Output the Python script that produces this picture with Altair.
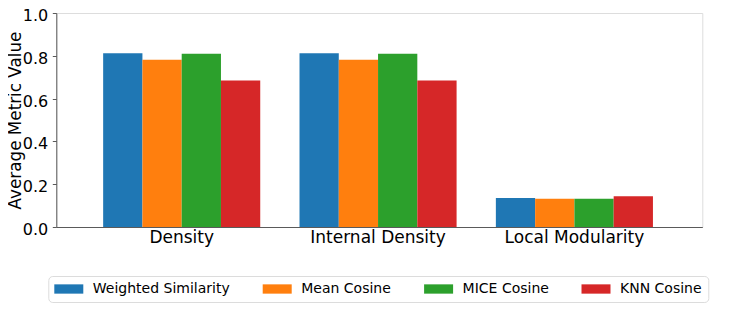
import altair as alt
import pandas as pd

categories = ["Density", "Internal Density", "Local Modularity"]
methods = ["Weighted Similarity", "Mean Cosine", "MICE Cosine", "KNN Cosine"]
colors = ["#1f77b4", "#ff7f0e", "#2ca02c", "#d62728"]
weighted_similarity = [0.8125, 0.8125, 0.135]
mean_cosine = [0.782, 0.782, 0.132]
mice_cosine = [0.810, 0.810, 0.132]
knn_cosine = [0.684, 0.684, 0.144]
y_ticks = [0.0, 0.2, 0.4, 0.6, 0.8, 1.0]

rows = []
for m, vals in zip(methods, [weighted_similarity, mean_cosine, mice_cosine, knn_cosine]):
    for c, v in zip(categories, vals):
        rows.append({"Metric": c, "Method": m, "Value": v})
df = pd.DataFrame(rows)

FONT = "DejaVu Sans"
EDGE = "#5a5a5a"
PLOT_H = 214
PLOT_W = 646

chart = alt.Chart(df).mark_bar().encode(
    x=alt.X(
        "Metric:N",
        sort=categories,
        scale=alt.Scale(domain=categories, paddingInner=0.2, paddingOuter=0.245, align=0.487),
        axis=alt.Axis(
            title=None, labelAngle=0, labelFontSize=17, labelFont=FONT, labelColor="black",
            ticks=False, domainColor=EDGE, labelPadding=2,
        ),
    ),
    xOffset=alt.XOffset(
        "Method:N", sort=methods,
        scale=alt.Scale(domain=methods, paddingInner=0, paddingOuter=0),
    ),
    y=alt.Y(
        "Value:Q",
        scale=alt.Scale(domain=[0, 1], nice=False),
        axis=alt.Axis(
            values=y_ticks, format=".1f", title="Average Metric Value", grid=False,
            labelFontSize=16, labelFont=FONT, labelColor="black", labelOffset=2.5,
            titleFontSize=16.8, titleFont=FONT, titleFontWeight="normal", titleColor="black",
            titleX=-35.8, titleY=PLOT_H / 2, titleAngle=270, titleBaseline="alphabetic",
            titleAlign="center",
            tickSize=4, tickColor=EDGE, domainColor=EDGE, labelPadding=4.5,
        ),
    ),
    color=alt.Color(
        "Method:N",
        sort=methods,
        scale=alt.Scale(domain=methods, range=colors),
        legend=alt.Legend(
            title=None, orient="none", direction="horizontal", legendX=-8, legendY=263,
            labelFontSize=14, labelFont=FONT, labelColor="black",
            symbolType="M-2.9,-0.93H2.9V0.93H-2.9Z", symbolSize=100, symbolStrokeWidth=0,
            symbolOffset=7.5, labelOffset=17, columnPadding=32.4, padding=6,
            strokeColor="#dcdcdc", fillColor="white", cornerRadius=4,
        ),
    ),
).properties(
    width=PLOT_W, height=PLOT_H,
    autosize=alt.AutoSizeParams(type="none"),
    padding={"left": 48.3, "top": 5, "right": 36.7, "bottom": 77},
).configure_view(
    stroke=EDGE, strokeWidth=1,
).configure(font=FONT)

chart.save("out.html", embed_options={"renderer": "svg", "actions": False})
